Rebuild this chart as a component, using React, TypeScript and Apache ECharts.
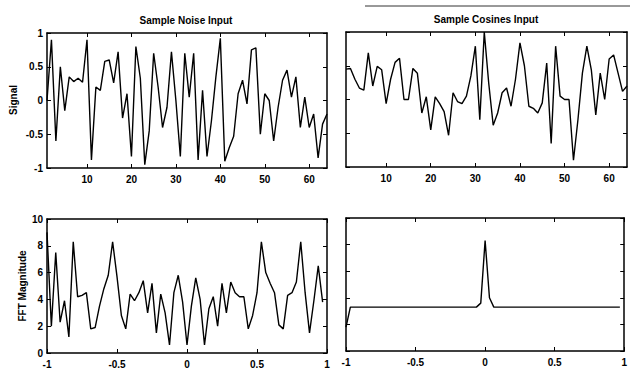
import React, { useEffect, useRef } from "react";
import * as echarts from "echarts";

// ---------- data ----------
const sampleIndex: number[] = Array.from({ length: 64 }, (_, i) => i + 1);
const freqIndex: number[] = Array.from({ length: 64 }, (_, k) => -1 + (2 * k) / 64);

const noiseSignal: number[] = [
  0.0, 0.9, -0.6, 0.5, -0.15, 0.35, 0.28, 0.33, 0.27, 0.9,
  -0.88, 0.2, 0.15, 0.58, 0.6, 0.26, 0.72, -0.26, 0.1, -0.83,
  0.8, 0.33, -0.95, -0.45, 0.7, 0.2, -0.4, -0.1, 0.72, 0.0,
  -0.83, 0.7, 0.05, 0.7, -0.88, 0.15, -0.83, -0.3, 0.35, 0.92,
  -0.9, -0.7, -0.53, 0.1, 0.3, -0.05, 0.75, 0.78, -0.5, 0.1,
  0.0, -0.6, -0.1, 0.3, 0.45, 0.05, 0.35, -0.4, 0.05, -0.4,
  -0.2, -0.85, -0.35, -0.2,
];

const cosineSignal: number[] = [
  0.45, 0.46, 0.3, 0.17, 0.14, 0.69, 0.2, 0.49, 0.44, -0.06,
  0.3, 0.55, 0.61, 0.0, 0.0, 0.46, 0.39, -0.2, 0.04, -0.45,
  0.04, -0.06, -0.18, -0.53, 0.1, -0.03, -0.06, 0.05, 0.35, 0.79,
  -0.3, 1.0, 0.24, -0.38, -0.2, 0.1, 0.17, -0.1, 0.3, 0.84,
  0.5, -0.1, -0.13, -0.2, -0.05, 0.54, -0.65, 0.79, 0.05, 0.0,
  0.0, -0.9, -0.3, 0.39, 0.79, 0.44, -0.23, 0.39, 0.0, 0.6,
  0.66, 0.39, 0.12, 0.2,
];

const noiseFFT: number[] = [
  9, 2, 7.5, 2.3, 3.9, 1.2, 8.3, 4.2, 4.3, 4.5,
  1.8, 1.9, 3.5, 4.8, 5.8, 8.3, 5.7, 2.8, 1.8, 4.4,
  3.9, 4.5, 5.4, 3, 5.2, 1.5, 4.4, 3, 0.6, 4.5,
  5.8, 3.8, 0.6, 3.5, 5.6, 4, 0.6, 3.3, 4.2, 2,
  5.2, 3, 5.3, 4.5, 4.2, 4.2, 1.8, 2.8, 4.5, 8.3,
  6, 5.2, 4.5, 2.1, 1.8, 4.3, 4.5, 5.3, 8.3, 4.5,
  1.5, 3.9, 6.5, 3.8,
];

const cosineFFT: number[] = [
  1.8, 3.3, 3.3, 3.3, 3.3, 3.3, 3.3, 3.3, 3.3, 3.3,
  3.3, 3.3, 3.3, 3.3, 3.3, 3.3, 3.3, 3.3, 3.3, 3.3,
  3.3, 3.3, 3.3, 3.3, 3.3, 3.3, 3.3, 3.3, 3.3, 3.3,
  3.3, 3.6, 8.3, 4.0, 3.3, 3.3, 3.3, 3.3, 3.3, 3.3,
  3.3, 3.3, 3.3, 3.3, 3.3, 3.3, 3.3, 3.3, 3.3, 3.3,
  3.3, 3.3, 3.3, 3.3, 3.3, 3.3, 3.3, 3.3, 3.3, 3.3,
  3.3, 3.3, 3.3, 3.3,
];

const sampleTicks: number[] = [10, 20, 30, 40, 50, 60];
const titles: string[] = ["Sample Noise Input", "Sample Cosines Input"];
const yNames: string[] = ["Signal", "FFT Magnitude"];

const FONT = "'Liberation Sans', Arial, sans-serif";

export default function App() {
  const ref = useRef<HTMLDivElement>(null);

  useEffect(() => {
    if (!ref.current) return;
    const chart = echarts.init(ref.current, undefined, { renderer: "svg" });

    const grids = [
      { left: 47, top: 33, width: 280, height: 135 },
      { left: 346, top: 32, width: 281, height: 135 },
      { left: 47, top: 219, width: 280, height: 134 },
      { left: 346, top: 218, width: 281, height: 133 },
    ];

    const lineStyle = { color: "#000", width: 1.5 };
    const labelStyle = { color: "#000", fontSize: 10, fontWeight: "bold" as const, fontFamily: FONT };

    const xAxes: any[] = [];
    const yAxes: any[] = [];
    grids.forEach((_, g) => {
      const isTime = g < 2;
      const base: any = isTime
        ? { type: "value", min: 1, max: 64 }
        : { type: "value", min: -1, max: 1, interval: 0.5 };
      const tickCustom = isTime ? { customValues: sampleTicks } : {};
      xAxes.push({
        ...base,
        gridIndex: g,
        position: "bottom",
        axisLine: { show: true, onZero: false, lineStyle },
        axisTick: { show: true, inside: true, length: 4, lineStyle: { color: "#000" }, ...tickCustom },
        axisLabel: {
          show: true,
          margin: 6,
          ...labelStyle,
          ...tickCustom,
          formatter: (v: number) => String(v),
        },
        splitLine: { show: false },
      });
      xAxes.push({
        ...base,
        gridIndex: g,
        position: "top",
        axisLine: { show: true, onZero: false, lineStyle },
        axisTick: { show: true, inside: true, length: 4, lineStyle: { color: "#000" }, ...tickCustom },
        axisLabel: { show: false },
        splitLine: { show: false },
      });
      const yBase: any = isTime
        ? { type: "value", min: -1, max: 1, interval: 0.5 }
        : { type: "value", min: 0, max: 10, interval: 2 };
      const showLabels = g === 0 || g === 2;
      yAxes.push({
        ...yBase,
        gridIndex: g,
        position: "left",
        axisLine: { show: true, onZero: false, lineStyle },
        axisTick: { show: true, inside: true, length: 4, lineStyle: { color: "#000" } },
        axisLabel: { show: showLabels, margin: 4, ...labelStyle },
        splitLine: { show: false },
      });
      yAxes.push({
        ...yBase,
        gridIndex: g,
        position: "right",
        axisLine: { show: true, onZero: false, lineStyle },
        axisTick: { show: true, inside: true, length: 4, lineStyle: { color: "#000" } },
        axisLabel: { show: false },
        splitLine: { show: false },
      });
    });

    const mk = (xs: number[], ys: number[], g: number) => ({
      type: "line",
      xAxisIndex: 2 * g,
      yAxisIndex: 2 * g,
      data: ys.map((y, i) => [xs[i], y]),
      symbol: "none",
      lineStyle: { color: "#000", width: 1.4 },
      clip: true,
    });

    const textStyle = (text: string) => ({
      text,
      fill: "#000",
      font: `bold 10px ${FONT}`,
      textAlign: "center",
      textVerticalAlign: "middle",
    });

    chart.setOption({
      animation: false,
      backgroundColor: "#fff",
      grid: grids.map((g) => ({ ...g, containLabel: false })),
      xAxis: xAxes,
      yAxis: yAxes,
      series: [
        mk(sampleIndex, noiseSignal, 0),
        mk(sampleIndex, cosineSignal, 1),
        mk(freqIndex, noiseFFT, 2),
        mk(freqIndex, cosineFFT, 3),
      ],
      graphic: [
        { type: "text", x: 186, y: 20, style: textStyle(titles[0]) },
        { type: "text", x: 486, y: 19, style: textStyle(titles[1]) },
        { type: "text", x: 13, y: 100, rotation: Math.PI / 2, style: textStyle(yNames[0]) },
        { type: "text", x: 22, y: 286, rotation: Math.PI / 2, style: textStyle(yNames[1]) },
        {
          type: "line",
          shape: { x1: 365, y1: 6, x2: 630, y2: 6 },
          style: { stroke: "#333", lineWidth: 1 },
        },
      ],
    });

    return () => chart.dispose();
  }, []);

  return (
    <div
      ref={ref}
      style={{ position: "fixed", left: 0, top: 0, width: 630, height: 372, background: "#fff" }}
    />
  );
}
